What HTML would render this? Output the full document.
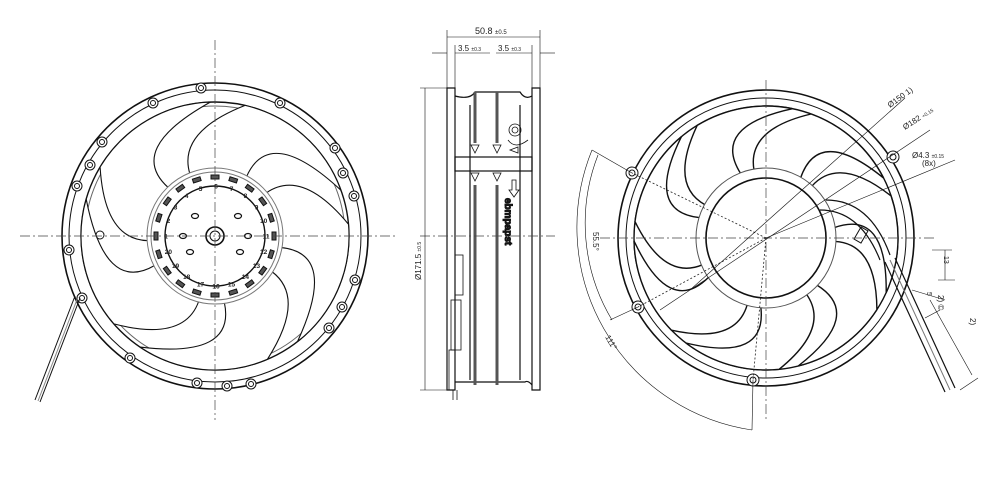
<!DOCTYPE html>
<html><head><meta charset="utf-8"><style>
html,body{margin:0;padding:0;background:#fff;width:1000px;height:498px;overflow:hidden}
svg{display:block}
text{font-family:"Liberation Sans",sans-serif;fill:#222}
</style></head><body>
<svg id="s" width="1000" height="498" viewBox="0 0 1000 498" xmlns="http://www.w3.org/2000/svg">
<g fill="none" stroke="#111" stroke-width="1">
<!-- LEFT FAN -->
<circle cx="215" cy="236" r="153" stroke-width="1.6"/>
<circle cx="215" cy="236" r="146"/>
<circle cx="215" cy="236" r="134" stroke-width="1.4"/>
<circle cx="215" cy="236" r="130" stroke="#666"/>
<g id="lblades"></g>
<circle cx="215" cy="236" r="68" stroke="#777" fill="#fff"/>
<circle cx="215" cy="236" r="64" stroke="#777"/>
<circle cx="215" cy="236" r="50" stroke-width="1.4"/>
<circle cx="215" cy="236" r="9" stroke-width="1.6"/>
<circle cx="215" cy="236" r="5"/>
<g id="ltabs"></g>
<g id="lholes"></g>
<g id="llugs"></g>
<line x1="75" y1="296" x2="35" y2="400" stroke-width="1"/>
<line x1="80" y1="298" x2="40" y2="402"/>
<line x1="78" y1="297" x2="38" y2="401" stroke="#888"/>
<circle cx="100" cy="235" r="4"/>
<g stroke="#444" stroke-width="0.7" stroke-dasharray="10 3 2 3">
<line x1="20" y1="236" x2="395" y2="236"/>
<line x1="215" y1="40" x2="215" y2="420"/>
</g>

<!-- MIDDLE SIDE VIEW -->
<g stroke-width="1.2">
<path d="M447 88 L455 88 L455 390 L447 390 Z"/>
<path d="M532 88 L540 88 L540 390 L532 390 Z"/>
<path d="M455 96 Q470 100 475 92 L520 92 Q525 100 532 96"/>
<line x1="470" y1="105" x2="470" y2="380"/>
<line x1="520" y1="105" x2="520" y2="380"/>
<path d="M455 382 L525 382 Q528 380 532 385"/>
<rect x="455" y="157" width="77" height="14"/>
</g>
<g stroke="#555" stroke-width="3">
<line x1="475" y1="92" x2="475" y2="143"/>
<line x1="497" y1="92" x2="497" y2="143"/>
<line x1="475" y1="185" x2="475" y2="385"/>
<line x1="497" y1="185" x2="497" y2="385"/>
</g>
<g stroke-width="0.8">
<path d="M471 145 L479 145 L475 153 Z"/><path d="M493 145 L501 145 L497 153 Z"/>
<path d="M471 173 L479 173 L475 181 Z"/><path d="M493 173 L501 173 L497 181 Z"/>
<circle cx="515" cy="130" r="6"/><circle cx="515" cy="130" r="3"/>
<path d="M508 140 Q515 150 528 140"/>
<path d="M510 150 L518 147 L518 153 Z"/>
<path d="M512 180 L512 190 L509 190 L514 197 L519 190 L516 190 L516 180 Z"/>
<rect x="455" y="255" width="8" height="40"/>
<rect x="451" y="300" width="10" height="50"/>
<rect x="449" y="350" width="6" height="40"/>
<line x1="453" y1="390" x2="453" y2="400"/><line x1="457" y1="390" x2="457" y2="400"/>
</g>
<text x="505" y="198" font-size="10" font-weight="bold" transform="rotate(90 505 198)">ebmpapst</text>
<line x1="420" y1="236" x2="555" y2="236" stroke="#444" stroke-width="0.7" stroke-dasharray="10 3 2 3"/>
<g stroke-width="0.6">
<line x1="447" y1="30" x2="447" y2="88"/><line x1="540" y1="30" x2="540" y2="88"/>
<line x1="447" y1="37" x2="540" y2="37"/>
<line x1="432" y1="53" x2="447" y2="53"/><line x1="455" y1="53" x2="490" y2="53"/>
<line x1="496" y1="53" x2="532" y2="53"/><line x1="540" y1="53" x2="555" y2="53"/>
<line x1="455" y1="45" x2="455" y2="88"/><line x1="532" y1="45" x2="532" y2="88"/>
<line x1="420" y1="88" x2="447" y2="88"/><line x1="420" y1="390" x2="447" y2="390"/>
<line x1="425" y1="88" x2="425" y2="390"/>
</g>
</g>
<text x="475" y="34" font-size="9">50.8 <tspan font-size="6">±0.5</tspan></text>
<text x="458" y="51" font-size="8">3.5 <tspan font-size="5">±0.3</tspan></text>
<text x="498" y="51" font-size="8">3.5 <tspan font-size="5">±0.3</tspan></text>
<text x="421" y="280" font-size="8" transform="rotate(-90 421 280)">Ø171.5 <tspan font-size="5">±0.5</tspan></text>

<g fill="none" stroke="#111" stroke-width="1">
<!-- RIGHT FAN -->
<circle cx="766" cy="238" r="148" stroke-width="1.6"/>
<circle cx="766" cy="238" r="140"/>
<circle cx="766" cy="238" r="132" stroke-width="1.4"/>
<g id="rblades"></g>
<circle cx="766" cy="238" r="70" stroke="#555" fill="#fff"/>
<circle cx="766" cy="238" r="60" stroke-width="1.6"/>
<g id="rlugs"></g>
<path d="M826 200 Q870 200 890 255" stroke-width="1.2"/>
<path d="M820 210 Q860 210 880 260" stroke-width="1.2"/>
<rect x="857" y="228" width="8" height="14" transform="rotate(30 861 235)"/>
<line x1="885" y1="262" x2="945" y2="392" stroke-width="1.2"/>
<line x1="895" y1="258" x2="955" y2="388" stroke-width="1.2"/>
<line x1="890" y1="260" x2="950" y2="390" stroke="#777"/>
<g stroke="#444" stroke-width="0.7" stroke-dasharray="10 3 2 3">
<line x1="600" y1="238" x2="935" y2="238"/>
<line x1="766" y1="80" x2="766" y2="420"/>
</g>
<g stroke="#222" stroke-width="0.8" stroke-dasharray="2 2">
<line x1="766" y1="238" x2="632" y2="173"/>
<line x1="766" y1="238" x2="638" y2="307"/>
<line x1="766" y1="238" x2="753" y2="380"/>
</g>
<g stroke-width="0.6">
<line x1="690" y1="290" x2="905" y2="98"/>
<line x1="660" y1="310" x2="930" y2="130"/>
<line x1="766" y1="238" x2="955" y2="160"/>
<path d="M598 155 A188 188 0 0 0 612 320"/>
<path d="M592 150 A205 205 0 0 0 752 430"/>
<line x1="632" y1="173" x2="592" y2="150"/>
<line x1="638" y1="307" x2="610" y2="320"/>
<line x1="753" y1="380" x2="752" y2="430"/>
<line x1="932" y1="250" x2="952" y2="250"/><line x1="938" y1="280" x2="955" y2="280"/>
<line x1="945" y1="250" x2="945" y2="280"/>
<line x1="912" y1="290" x2="945" y2="300"/>
<line x1="925" y1="318" x2="940" y2="310"/>
<line x1="930" y1="300" x2="972" y2="375"/>
<line x1="960" y1="390" x2="978" y2="378"/>
</g>
</g>
<text x="890" y="108" font-size="8" transform="rotate(-36 890 108)">Ø150 1)</text>
<text x="905" y="130" font-size="8" transform="rotate(-33 905 130)">Ø182 <tspan font-size="5">+0.15</tspan></text>
<text x="912" y="158" font-size="8">Ø4.3 <tspan font-size="5">±0.15</tspan></text>
<text x="922" y="166" font-size="8">(8x)</text>
<text x="593" y="232" font-size="8" transform="rotate(90 593 232)">55.5°</text>
<text x="605" y="337" font-size="8" transform="rotate(60 605 337)">111°</text>
<text x="944" y="256" font-size="7" transform="rotate(90 944 256)">13</text>
<text x="927" y="292" font-size="7" transform="rotate(90 927 292)">5</text>
<text x="938" y="295" font-size="8" transform="rotate(90 938 295)">2) ©</text>
<text x="970" y="318" font-size="8" transform="rotate(90 970 318)">2)</text>

<g font-size="6.5" font-weight="bold" text-anchor="middle" dominant-baseline="middle">
<text x="166" y="237">1</text><text x="168.4" y="221.5">2</text><text x="175.5" y="207.6">3</text>
<text x="186.6" y="196.5">4</text><text x="200.5" y="189.4">5</text><text x="216" y="187">6</text>
<text x="231.5" y="189.4">7</text><text x="245.4" y="196.5">8</text><text x="256.5" y="207.6">9</text>
<text x="263.6" y="221.5">10</text><text x="266" y="237">11</text><text x="263.6" y="252.5">12</text>
<text x="256.5" y="266.4">13</text><text x="245.4" y="277.5">14</text><text x="231.5" y="284.6">15</text>
<text x="216" y="287">16</text><text x="200.5" y="284.6">17</text><text x="186.6" y="277.5">18</text>
<text x="175.5" y="266.4">19</text><text x="168.4" y="252.5">20</text>
</g>
</svg>
<script>
var NS="http://www.w3.org/2000/svg";
function el(p,t,a){var e=document.createElementNS(NS,t);for(var k in a)e.setAttribute(k,a[k]);document.getElementById(p).appendChild(e);return e;}
function P(cx,cy,r,d){var a=(d-90)*Math.PI/180;return (cx+r*Math.cos(a)).toFixed(1)+","+(cy+r*Math.sin(a)).toFixed(1);}
function blade(g,cx,cy,rh,ro,a,lh,lo,th,to,lc,tc,sw){
 var d="M"+P(cx,cy,rh,a+lh)+" Q"+P(cx,cy,(rh+ro)*0.62,a+lc)+" "+P(cx,cy,ro,a+lo)+
 " A"+ro+" "+ro+" 0 0 0 "+P(cx,cy,ro,a+to)+" Q"+P(cx,cy,(rh+ro)*0.55,a+tc)+" "+P(cx,cy,rh,a+th)+
 " A"+rh+" "+rh+" 0 0 1 "+P(cx,cy,rh,a+lh)+"Z";
 el(g,"path",{d:d,fill:"#fff","stroke-width":sw});}
// left: 5 broad blades
for(var i=0;i<5;i++){blade("lblades",215,236,67,134,i*72+8,20,62,-30,5,18,-28,1.1);}
for(var i=0;i<20;i++){el("ltabs","rect",{x:-4,y:-61,width:8,height:4,fill:"#555",transform:"translate(215,236) rotate("+(i*18)+")"});}
[[195,216],[238,216],[190,252],[240,252],[183,236],[248,236]].forEach(function(p){el("lholes","ellipse",{cx:p[0],cy:p[1],rx:3.5,ry:2.5,"stroke-width":1.2});});
var L=[[201,88],[153,103],[102,142],[90,165],[77,186],[69,250],[82,298],[130,358],[197,383],[227,386],[251,384],[329,328],[342,307],[355,280],[354,196],[343,173],[335,148],[280,103]];
L.forEach(function(p){el("llugs","circle",{cx:p[0],cy:p[1],r:5,fill:"#fff"});el("llugs","circle",{cx:p[0],cy:p[1],r:2.5});});
// right: 7 blades
for(var i=0;i<7;i++){blade("rblades",766,238,69,132,i*51.43+15,15,48,-25,5,10,-25,1.4);}
[[632,173],[638,307],[753,380],[893,157]].forEach(function(p){el("rlugs","circle",{cx:p[0],cy:p[1],r:6,fill:"#fff"});el("rlugs","circle",{cx:p[0],cy:p[1],r:3});});
</script>
</body></html>
